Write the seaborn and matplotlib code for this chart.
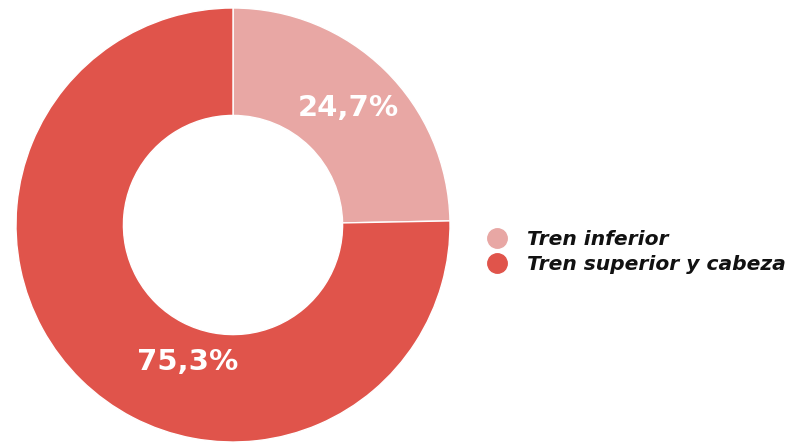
import matplotlib
matplotlib.use("Agg")
import matplotlib.pyplot as plt
import seaborn as sns
from matplotlib.lines import Line2D
import numpy as np

sns.set_style("white")
plt.rcParams['font.family'] = ['DejaVu Sans']

categories = ["Tren inferior", "Tren superior y cabeza"]
values = [24.7, 75.3]
labels = ["24,7%", "75,3%"]
colors = ["#E8A7A4", "#E0544B"]

fig = plt.figure(figsize=(7.88, 4.43), dpi=100)
W, H = 788, 443
ax = fig.add_axes([16 / W, 1 / H, 434 / W, 434 / H])

wedges, _ = ax.pie(values, colors=colors, startangle=90, counterclock=False,
                   radius=1.0, wedgeprops=dict(width=0.495, edgecolor="white", linewidth=1))
ax.set_xlim(-1, 1)
ax.set_ylim(-1, 1)
ax.set_aspect("equal")
ax.axis("off")

# label positions (angle in degrees, radius)
label_pos = [(45.5, 0.756), (-108.2, 0.665)]
for txt, (ang, r) in zip(labels, label_pos):
    a = np.deg2rad(ang)
    ax.text(r * np.cos(a), r * np.sin(a), txt, ha="center", va="center",
            color="white", fontsize=21, fontweight="bold")

handles = [Line2D([0], [0], marker="o", linestyle="", markersize=14,
                  markerfacecolor=c, markeredgecolor=c) for c in colors]
leg = fig.legend(handles, categories, loc="center left",
                 bbox_to_anchor=(467 / W, 1 - 252 / H), frameon=False,
                 prop=dict(size=14.6, weight="bold", style="oblique"),
                 handletextpad=0.85, labelspacing=0.32, handlelength=1.2,
                 labelcolor="#111111")

fig.savefig("out.png", dpi=100)
